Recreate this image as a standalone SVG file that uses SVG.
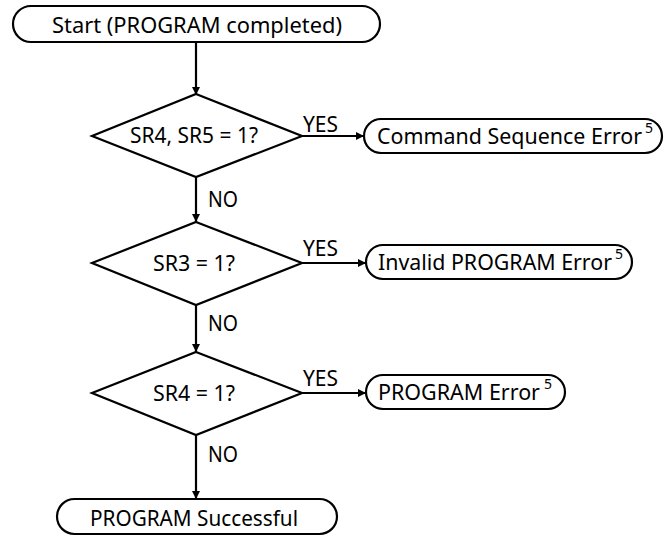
<svg xmlns="http://www.w3.org/2000/svg" width="667" height="537" viewBox="0 0 667 537">
<defs>
<marker id="ah" viewBox="0 0 10 10" refX="10" refY="5" markerWidth="10" markerHeight="8" markerUnits="userSpaceOnUse" orient="auto">
<path d="M0,0 L10,5 L0,10 z" fill="#000"/>
</marker>
<style>
.shape{fill:#fff;stroke:#000;stroke-width:2.2}
.t{font-family:"Noto Sans","Open Sans","DejaVu Sans",sans-serif;font-size:21px;fill:#000}
.m{text-anchor:middle}
.sup{font-family:"Noto Sans","Open Sans","DejaVu Sans",sans-serif;font-size:14px;fill:#000}
.c{fill:none;stroke:#000;stroke-width:2.2}
</style>
</defs>
<rect width="667" height="537" fill="#fff"/>
<g id="connectors">
<line class="c" x1="196" y1="42" x2="196" y2="95" marker-end="url(#ah)"/>
<line class="c" x1="196" y1="177" x2="196" y2="222" marker-end="url(#ah)"/>
<line class="c" x1="196" y1="305" x2="196" y2="352" marker-end="url(#ah)"/>
<line class="c" x1="196" y1="435" x2="196" y2="499" marker-end="url(#ah)"/>
<line class="c" x1="302" y1="136" x2="364" y2="136" marker-end="url(#ah)"/>
<line class="c" x1="302" y1="263" x2="366" y2="263" marker-end="url(#ah)"/>
<line class="c" x1="302" y1="393" x2="366" y2="393" marker-end="url(#ah)"/>
<text class="t" x="303" y="132" textLength="35" lengthAdjust="spacingAndGlyphs">YES</text>
<text class="t" x="303" y="256" textLength="35" lengthAdjust="spacingAndGlyphs">YES</text>
<text class="t" x="303" y="386" textLength="35" lengthAdjust="spacingAndGlyphs">YES</text>
<text class="t" x="208" y="207" textLength="30" lengthAdjust="spacingAndGlyphs">NO</text>
<text class="t" x="208" y="331" textLength="30" lengthAdjust="spacingAndGlyphs">NO</text>
<text class="t" x="208" y="462" textLength="30" lengthAdjust="spacingAndGlyphs">NO</text>
</g>
<g id="start">
<rect class="shape" x="13" y="6" width="367" height="36" rx="18"/>
<text class="t" x="52" y="33" textLength="290" lengthAdjust="spacingAndGlyphs">Start (PROGRAM completed)</text>
</g>
<g id="d1">
<polygon class="shape" points="196,94 302,136 196,177 92,136"/>
<text class="t" x="130" y="143" textLength="128" lengthAdjust="spacingAndGlyphs">SR4, SR5 = 1?</text>
</g>
<g id="e1">
<rect class="shape" x="364" y="119" width="298" height="34" rx="17"/>
<text class="t" x="377" y="144" textLength="265" lengthAdjust="spacingAndGlyphs">Command Sequence Error</text>
<text class="sup" x="645" y="133">5</text>
</g>
<g id="d2">
<polygon class="shape" points="196,222 302,263 196,305 92,263"/>
<text class="t" x="153" y="271" textLength="82" lengthAdjust="spacingAndGlyphs">SR3 = 1?</text>
</g>
<g id="e2">
<rect class="shape" x="366" y="245" width="266" height="34" rx="17"/>
<text class="t" x="378" y="270" textLength="234" lengthAdjust="spacingAndGlyphs">Invalid PROGRAM Error</text>
<text class="sup" x="615" y="259">5</text>
</g>
<g id="d3">
<polygon class="shape" points="196,352 302,393 196,435 92,393"/>
<text class="t" x="153" y="401" textLength="82" lengthAdjust="spacingAndGlyphs">SR4 = 1?</text>
</g>
<g id="e3">
<rect class="shape" x="366" y="375" width="199" height="34" rx="17"/>
<text class="t" x="378" y="400" textLength="162" lengthAdjust="spacingAndGlyphs">PROGRAM Error</text>
<text class="sup" x="544" y="389">5</text>
</g>
<g id="success">
<rect class="shape" x="57" y="499" width="280" height="35" rx="17.5"/>
<text class="t" x="90" y="526" textLength="208" lengthAdjust="spacingAndGlyphs">PROGRAM Successful</text>
</g>
</svg>
